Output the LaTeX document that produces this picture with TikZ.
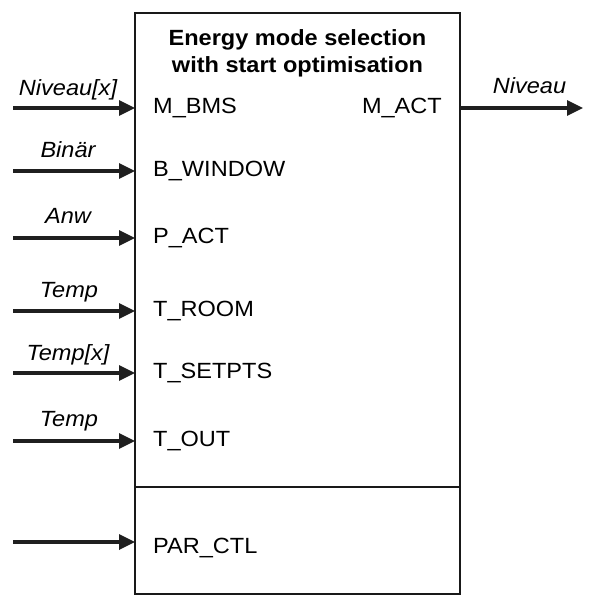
\documentclass[tikz,border=0pt]{standalone}
\usepackage{fontspec}
\setmainfont[FakeStretch=1.07]{Liberation Sans}
\usetikzlibrary{arrows.meta}
\begin{document}
\begin{tikzpicture}[x=1pt,y=-1pt,
  port/.style={font=\fontsize{22}{26}\selectfont, inner sep=0pt, anchor=base west},
  portr/.style={font=\fontsize{22}{26}\selectfont, inner sep=0pt, anchor=base east},
  sig/.style={font=\fontsize{22}{26}\selectfont\itshape, inner sep=0pt, anchor=base},
  ttl/.style={font=\fontsize{22}{26}\selectfont\bfseries, inner sep=0pt, anchor=base},
  conn/.style={line width=3.3pt, -{Triangle[length=16pt,width=15pt]}, color=black!88},
  blockbox/.style={draw, line width=1.8pt, color=black!90, minimum width=325pt, minimum height=581pt, inner sep=0pt, outer sep=0pt, anchor=north west}]
\useasboundingbox (0,0) rectangle (600,602);
% block
\node[blockbox] (blk) at (135,13) {};
\coordinate (dl) at (135,487);
\coordinate (dr) at (460,487);
\draw[line width=1.8pt, color=black!90] (dl) -- (dr);
% title
\node[ttl] (t1) at (297.5,45.5) {Energy mode selection};
\node[ttl] (t2) at (297.5,73) {with start optimisation};
% ports
\node[port] (n1) at (153,113) {M\_BMS};
\node[port] (n2) at (153,176) {B\_WINDOW};
\node[port] (n3) at (153,243) {P\_ACT};
\node[port] (n4) at (153,316) {T\_ROOM};
\node[port] (n5) at (153,378) {T\_SETPTS};
\node[port] (n6) at (153,446) {T\_OUT};
\node[port] (n7) at (153,553) {PAR\_CTL};
\node[portr] (no) at (442,113) {M\_ACT};
% signal labels
\node[sig] (s1) at (68,95) {Niveau[x]};
\node[sig] (s2) at (68,157) {Binär};
\node[sig] (s3) at (68,223) {Anw};
\node[sig] (s4) at (69,297) {Temp};
\node[sig] (s5) at (68,360) {Temp[x]};
\node[sig] (s6) at (69,426) {Temp};
\node[sig] (so) at (529.5,93) {Niveau};
% connector ends
\coordinate (i1) at (13,108);  \coordinate (p1) at (135,108);
\coordinate (i2) at (13,171);  \coordinate (p2) at (135,171);
\coordinate (i3) at (13,238);  \coordinate (p3) at (135,238);
\coordinate (i4) at (13,311);  \coordinate (p4) at (135,311);
\coordinate (i5) at (13,373);  \coordinate (p5) at (135,373);
\coordinate (i6) at (13,441);  \coordinate (p6) at (135,441);
\coordinate (i7) at (13,542);  \coordinate (p7) at (135,542);
\coordinate (po) at (460,108); \coordinate (oo) at (583,108);
\draw[conn] (i1) -- (p1);
\draw[conn] (i2) -- (p2);
\draw[conn] (i3) -- (p3);
\draw[conn] (i4) -- (p4);
\draw[conn] (i5) -- (p5);
\draw[conn] (i6) -- (p6);
\draw[conn] (i7) -- (p7);
\draw[conn] (po) -- (oo);
\end{tikzpicture}
\end{document}
